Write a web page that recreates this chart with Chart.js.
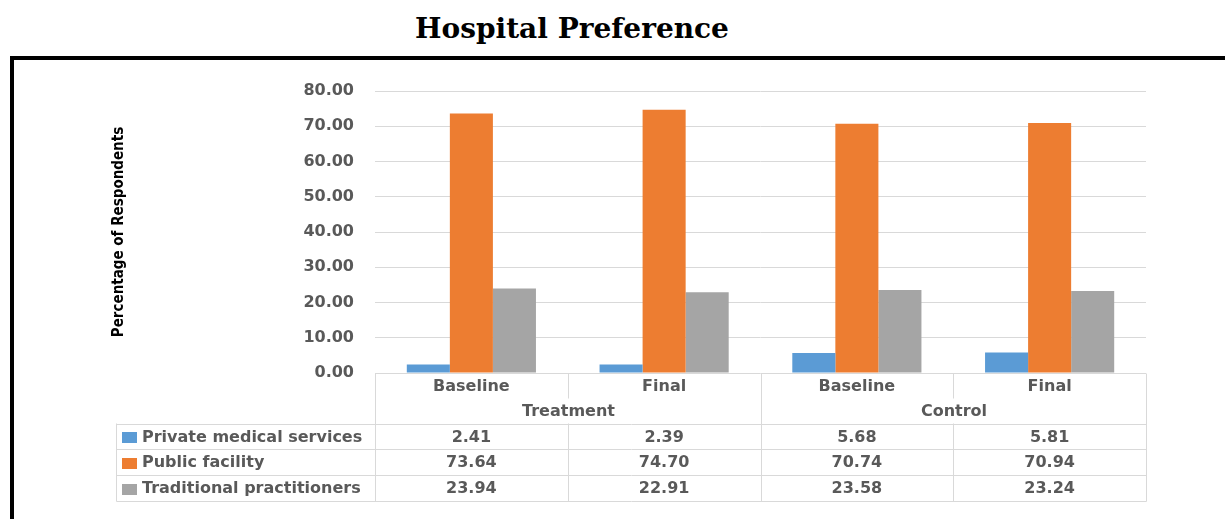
<!DOCTYPE html>
<html>
<head>
<meta charset="utf-8">
<title>Hospital Preference</title>
<script src="https://cdn.jsdelivr.net/npm/chart.js@4.4.1/dist/chart.umd.min.js"></script>
<style>
  html, body { margin: 0; padding: 0; background: #fff; }
  #wrap { position: relative; width: 1225px; height: 519px; overflow: hidden; }
  #frame { position: absolute; left: 10px; top: 56px; width: 1260px; height: 520px; border: 4px solid #000; box-sizing: border-box; }
  #title { position: absolute; left: 0; top: 12px; width: 1144px; line-height: 32px; text-align: center;
           font: bold 28px "DejaVu Serif", "Liberation Serif", serif; color: #000; }
  canvas { position: absolute; left: 0; top: 0; }
</style>
</head>
<body>
<div id="wrap">
  <div id="frame"></div>
  <div id="title">Hospital Preference</div>
  <canvas id="c" width="1225" height="519"></canvas>
</div>
<script>
// Survey periods within each study arm
const periods = ['Baseline', 'Final', 'Baseline', 'Final'];
// Study arms, each spanning two periods
const groups = ['Treatment', 'Control'];
const groupSpan = 2;

// Share of respondents (%) by preferred provider
const seriesNames = ['Private medical services', 'Public facility', 'Traditional practitioners'];
const privateMedical = [2.41, 2.39, 5.68, 5.81];
const publicFacility = [73.64, 74.70, 70.74, 70.94];
const traditionalPractitioners = [23.94, 22.91, 23.58, 23.24];
const seriesColors = ['#5B9BD5', '#ED7D31', '#A5A5A5'];

// Value axis
const yMin = 0, yMax = 80, yStep = 10;
const yTitle = 'Percentage of Respondents';

const seriesValues = [privateMedical, publicFacility, traditionalPractitioners];

const labelFont = { family: '"DejaVu Sans", Verdana, sans-serif', size: 16, weight: 'bold' };
const labelColor = '#595959';
const lineColor = '#d9d9d9';

// Data table drawn beneath the category axis: period row, arm row, one row per series
const dataTable = {
  id: 'dataTable',
  afterDraw(chart) {
    const { ctx, chartArea: ca, scales: { x } } = chart;
    const n = periods.length;
    const w = (ca.right - ca.left) / n;
    const edge = i => Math.round(ca.left + i * w) + 0.5;
    const b = Math.round(ca.bottom) + 0.5;
    const periodRowH = 25, groupRowH = 25, rowH = 25.7;
    const tableLeft = 116.5;
    const dataTop = b + periodRowH + groupRowH;
    const rowY = k => Math.round(dataTop + k * rowH) + 0.5;
    const tableBottom = rowY(seriesNames.length);

    ctx.save();
    ctx.strokeStyle = lineColor;
    ctx.lineWidth = 1;
    const line = (x1, y1, x2, y2) => { ctx.beginPath(); ctx.moveTo(x1, y1); ctx.lineTo(x2, y2); ctx.stroke(); };

    // horizontal rules
    for (let k = 0; k <= seriesNames.length; k++) line(tableLeft, rowY(k), edge(n), rowY(k));
    // vertical rules
    line(tableLeft, dataTop, tableLeft, tableBottom);
    for (let i = 0; i <= n; i++) {
      if (i % groupSpan === 0) {
        line(edge(i), b, edge(i), tableBottom);
      } else {
        line(edge(i), b, edge(i), b + periodRowH);
        line(edge(i), dataTop, edge(i), tableBottom);
      }
    }

    ctx.font = `${labelFont.weight} ${labelFont.size}px ${labelFont.family}`;
    ctx.fillStyle = labelColor;
    ctx.textBaseline = 'middle';

    // arm labels centred under their periods
    ctx.textAlign = 'center';
    groups.forEach((g, gi) => {
      const cx = (edge(gi * groupSpan) + edge((gi + 1) * groupSpan)) / 2;
      ctx.fillText(g, cx, b + periodRowH + groupRowH / 2 + 1);
    });

    // series rows
    seriesNames.forEach((name, k) => {
      const cy = (rowY(k) + rowY(k + 1)) / 2 + 0.5;
      ctx.fillStyle = seriesColors[k];
      ctx.fillRect(122, Math.round(cy - 5.5), 15, 11);
      ctx.fillStyle = labelColor;
      ctx.textAlign = 'left';
      ctx.fillText(name, 142, cy);
      ctx.textAlign = 'center';
      seriesValues[k].forEach((v, i) => {
        ctx.fillText(v.toFixed(2), x.getPixelForValue(i), cy);
      });
    });
    ctx.restore();
  }
};

new Chart(document.getElementById('c'), {
  type: 'bar',
  data: {
    labels: periods,
    datasets: seriesNames.map((name, k) => ({
      label: name,
      data: seriesValues[k],
      backgroundColor: seriesColors[k],
      borderWidth: 0,
      categoryPercentage: 0.67,
      barPercentage: 1.0
    }))
  },
  options: {
    responsive: false,
    animation: false,
    layout: { padding: { left: 110, right: 79, top: 91, bottom: 96 } },
    plugins: { legend: { display: false }, tooltip: { enabled: false }, title: { display: false } },
    scales: {
      x: {
        grid: { display: false, drawTicks: false },
        border: { display: false },
        ticks: { font: labelFont, color: labelColor, padding: 4, autoSkip: false, maxRotation: 0 },
        afterFit(s) { s.height = 50; }
      },
      y: {
        min: yMin,
        max: yMax,
        ticks: { stepSize: yStep, font: labelFont, color: labelColor, padding: 21,
                 callback: v => Number(v).toFixed(2) },
        grid: { color: lineColor, drawTicks: false },
        border: { display: false },
        title: {
          display: true,
          text: yTitle,
          color: '#000',
          padding: 0,
          font: { family: '"Liberation Sans Narrow", "DejaVu Sans Condensed", "Arial Narrow", sans-serif', size: 15, weight: 'bold' }
        },
        afterFit(s) { s.width = 265; }
      }
    }
  },
  plugins: [dataTable]
});
</script>
</body>
</html>
